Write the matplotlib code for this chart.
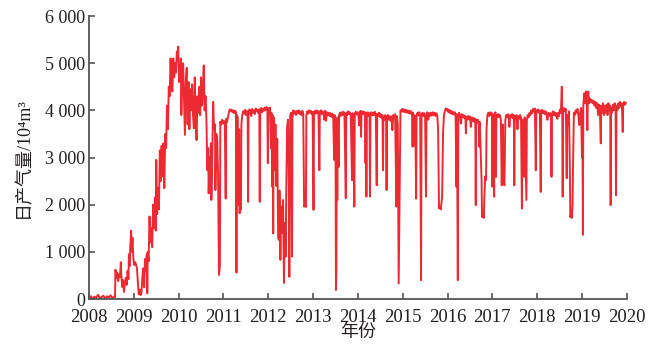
import numpy as np
import matplotlib
matplotlib.use("Agg")
import matplotlib.pyplot as plt
from matplotlib.ticker import FuncFormatter

# 日产气量 (10^4 m^3)，按年份的小数表示日期

# 2008-2010 投产与上产
ramp_t = [2008.00, 2008.04, 2008.08, 2008.12, 2008.16, 2008.20, 2008.24, 2008.28, 2008.32, 2008.36,
          2008.40, 2008.44, 2008.48, 2008.52, 2008.56, 2008.58, 2008.59, 2008.61, 2008.63, 2008.65,
          2008.67, 2008.69, 2008.71, 2008.72, 2008.74, 2008.76, 2008.78, 2008.80, 2008.82, 2008.84,
          2008.86, 2008.88, 2008.89, 2008.91, 2008.92, 2008.94, 2008.95, 2008.97, 2008.99, 2009.01,
          2009.03, 2009.05, 2009.07, 2009.09, 2009.11, 2009.13, 2009.15, 2009.17, 2009.19, 2009.21,
          2009.23, 2009.25, 2009.27, 2009.29, 2009.30, 2009.31, 2009.33, 2009.35, 2009.37, 2009.39,
          2009.41, 2009.43, 2009.45, 2009.47, 2009.49, 2009.50, 2009.52, 2009.54, 2009.56, 2009.58,
          2009.60, 2009.62, 2009.64, 2009.66, 2009.68, 2009.70, 2009.72, 2009.74, 2009.76, 2009.78,
          2009.80, 2009.82, 2009.84, 2009.86, 2009.88, 2009.90, 2009.92, 2009.94, 2009.96, 2009.98]
ramp_q = [20, 60, 10, 50, 30, 90, 20, 40, 70, 10,
          60, 30, 80, 20, 50, 40, 620, 450, 560, 380,
          520, 460, 780, 520, 260, 400, 150, 320, 450, 300,
          600, 420, 950, 700, 1100, 1450, 1000, 1300, 850, 720,
          780, 730, 650, 350, 100, 200, 80, 130, 450, 650,
          250, 850, 600, 950, 120, 1000, 800, 1750, 1200, 1500,
          1100, 2000, 1500, 2150, 1450, 2950, 1800, 2350, 1900, 3150,
          2500, 3250, 2600, 3300, 2350, 3500, 3200, 4100, 3600, 4500,
          4300, 5100, 4500, 4400, 5100, 4700, 5000, 4800, 5250, 5050]

# 2010-2011 高峰与递减
peak_t = [2009.99, 2010.01, 2010.03, 2010.05, 2010.06, 2010.08, 2010.10, 2010.12, 2010.14, 2010.16,
          2010.18, 2010.20, 2010.22, 2010.24, 2010.26, 2010.28, 2010.30, 2010.32, 2010.34, 2010.36,
          2010.38, 2010.40, 2010.42, 2010.44, 2010.46, 2010.48, 2010.50, 2010.52, 2010.54, 2010.56,
          2010.58, 2010.60, 2010.62, 2010.64, 2010.66, 2010.67, 2010.69, 2010.70, 2010.72, 2010.73,
          2010.75, 2010.77, 2010.79, 2010.81, 2010.82, 2010.84, 2010.86, 2010.88, 2010.90, 2010.92,
          2010.93, 2010.95, 2010.97, 2010.99, 2011.01, 2011.03, 2011.05, 2011.06, 2011.08, 2011.10]
peak_q = [5350, 4600, 4700, 5100, 3900, 4800, 5000, 4200, 3480, 4600,
          4900, 3700, 4600, 3600, 4450, 4000, 4550, 3900, 3620, 4700,
          3800, 3370, 4300, 3950, 4500, 3900, 4700, 4100, 4400, 4950,
          4000, 4300, 3800, 2730, 3200, 2240, 3000, 2500, 3300, 2100,
          3000, 4180, 3600, 3700, 2310, 3500, 3400, 2600, 510, 700,
          3760, 3700, 3800, 3720, 3780, 3700, 2130, 3820, 3750, 3850]

# 2011-2014 稳产
plat1_t = [2011.12, 2011.14, 2011.16, 2011.18, 2011.20, 2011.22, 2011.24, 2011.26, 2011.28, 2011.29,
           2011.30, 2011.32, 2011.34, 2011.35, 2011.36, 2011.38, 2011.39, 2011.40, 2011.42, 2011.44,
           2011.46, 2011.48, 2011.50, 2011.52, 2011.54, 2011.55, 2011.56, 2011.58, 2011.60, 2011.62,
           2011.64, 2011.66, 2011.68, 2011.70, 2011.72, 2011.74, 2011.76, 2011.78, 2011.80, 2011.81,
           2011.82, 2011.84, 2011.86, 2011.88, 2011.90, 2011.92, 2011.94, 2011.96, 2011.98, 2011.99,
           2012.00, 2012.02, 2012.04, 2012.06, 2012.07, 2012.09, 2012.10, 2012.11, 2012.12, 2012.14,
           2012.16, 2012.18, 2012.20, 2012.22, 2012.24, 2012.25, 2012.27, 2012.29, 2012.31, 2012.33,
           2012.35, 2012.37, 2012.39, 2012.40, 2012.42, 2012.44, 2012.46, 2012.47, 2012.49, 2012.51,
           2012.53, 2012.54, 2012.56, 2012.58, 2012.60, 2012.62, 2012.64, 2012.66, 2012.68, 2012.70,
           2012.72, 2012.74, 2012.76, 2012.78, 2012.80, 2012.82, 2012.84, 2012.85, 2012.87, 2012.89,
           2012.91, 2012.93, 2012.95, 2012.97, 2012.99, 2013.01, 2013.02, 2013.04, 2013.06, 2013.08,
           2013.10, 2013.12, 2013.14, 2013.15, 2013.17, 2013.19, 2013.21, 2013.23, 2013.25, 2013.27,
           2013.29, 2013.31, 2013.33, 2013.35, 2013.37, 2013.39, 2013.41, 2013.43, 2013.45, 2013.47,
           2013.48, 2013.50, 2013.51, 2013.52, 2013.53, 2013.54, 2013.55, 2013.57, 2013.58, 2013.60,
           2013.62, 2013.64, 2013.66, 2013.68, 2013.70, 2013.73, 2013.74, 2013.76, 2013.78, 2013.80,
           2013.82, 2013.84, 2013.87, 2013.88, 2013.90, 2013.92, 2013.93, 2013.95, 2013.97, 2013.99]
plat1_q = [3950, 4020, 3980, 4010, 3960, 4000, 3940, 3990, 3960, 560,
           3900, 3850, 1990, 3600, 1820, 2200, 1900, 3700, 3900, 3980,
           3930, 4010, 3900, 3990, 3950, 2060, 3920, 4020, 3960, 3880,
           4030, 3950, 4000, 3920, 4040, 3980, 4010, 3940, 4020, 2060,
           3990, 4050, 3960, 4030, 3990, 4060, 4000, 4070, 4030, 2880,
           4050, 4010, 4060, 3200, 3950, 2380, 3900, 1390, 3850, 2730,
           3700, 2400, 3400, 1300, 1250, 2300, 830, 1960, 1400, 2100,
           340, 1610, 900, 2170, 3650, 3800, 2400, 470, 3900, 3950,
           900, 3850, 4000, 3930, 3980, 3900, 3990, 3940, 4000, 3920,
           3970, 3900, 3990, 3940, 1960, 2000, 1950, 3900, 3980, 3930,
           4000, 3950, 3990, 3920, 3970, 1890, 3960, 3990, 3930, 4000,
           3940, 3980, 2730, 3950, 4000, 3920, 3980, 3950, 3800, 3990,
           3780, 3960, 3900, 3950, 3880, 3940, 3860, 3930, 3850, 2950,
           3900, 3850, 190, 600, 3800, 2100, 3850, 2800, 3900, 3950,
           3880, 3960, 3900, 3970, 3920, 2140, 3950, 3900, 3980, 3920,
           3960, 3900, 2520, 3940, 3880, 1960, 3920, 3970, 3910, 3960]

# 2014-2017
plat2_t = [2014.01, 2014.03, 2014.04, 2014.06, 2014.07, 2014.08, 2014.10, 2014.12, 2014.14, 2014.16,
           2014.17, 2014.18, 2014.19, 2014.20, 2014.22, 2014.24, 2014.26, 2014.27, 2014.28, 2014.30,
           2014.32, 2014.34, 2014.36, 2014.38, 2014.40, 2014.42, 2014.43, 2014.45, 2014.47, 2014.49,
           2014.51, 2014.53, 2014.55, 2014.56, 2014.57, 2014.59, 2014.61, 2014.63, 2014.64, 2014.65,
           2014.67, 2014.69, 2014.71, 2014.73, 2014.75, 2014.77, 2014.79, 2014.81, 2014.83, 2014.86,
           2014.87, 2014.89, 2014.91, 2014.93, 2014.95, 2014.97, 2014.99, 2015.01, 2015.03, 2015.05,
           2015.07, 2015.09, 2015.11, 2015.13, 2015.15, 2015.17, 2015.19, 2015.21, 2015.22, 2015.23,
           2015.25, 2015.26, 2015.28, 2015.30, 2015.31, 2015.33, 2015.35, 2015.37, 2015.39, 2015.41,
           2015.42, 2015.44, 2015.46, 2015.48, 2015.50, 2015.52, 2015.53, 2015.55, 2015.57, 2015.59,
           2015.61, 2015.63, 2015.65, 2015.67, 2015.69, 2015.71, 2015.73, 2015.75, 2015.77, 2015.79,
           2015.81, 2015.83, 2015.85, 2015.86, 2015.88, 2015.90, 2015.92, 2015.94, 2015.96, 2015.98,
           2016.00, 2016.02, 2016.04, 2016.06, 2016.08, 2016.10, 2016.12, 2016.14, 2016.16, 2016.18,
           2016.20, 2016.21, 2016.23, 2016.24, 2016.26, 2016.28, 2016.30, 2016.32, 2016.34, 2016.36,
           2016.38, 2016.40, 2016.41, 2016.42, 2016.44, 2016.46, 2016.48, 2016.50, 2016.52, 2016.54,
           2016.56, 2016.58, 2016.60, 2016.62, 2016.63, 2016.64, 2016.66, 2016.68, 2016.70, 2016.71,
           2016.72, 2016.74, 2016.76, 2016.77, 2016.79, 2016.81, 2016.82, 2016.84, 2016.86, 2016.87,
           2016.89, 2016.91, 2016.93, 2016.95, 2016.97, 2016.99]
plat2_q = [3900, 3680, 3950, 3990, 3440, 3940, 3980, 3920, 3970, 3900,
           2880, 3950, 2170, 3900, 3960, 3880, 3940, 2170, 3900, 3960,
           3890, 3950, 3900, 3970, 3880, 2410, 3930, 3880, 3950, 3860,
           3920, 3840, 3900, 2730, 3850, 3800, 3900, 3820, 2310, 3850,
           3900, 3800, 3880, 3780, 3870, 3580, 3900, 3850, 3920, 1960,
           3880, 3700, 330, 2100, 4000, 3980, 4030, 3970, 4020, 3960,
           4010, 3950, 4000, 3940, 3990, 3930, 3980, 3900, 3230, 3950,
           3250, 3900, 3850, 2130, 3880, 3950, 3890, 3960, 3900, 400,
           3880, 3950, 3880, 3940, 3870, 2170, 3900, 3960, 3800, 3940,
           3880, 3950, 3890, 3960, 3900, 3950, 3880, 3940, 3900, 3600,
           1920, 1950, 1900, 2000, 2170, 3500, 3900, 3980, 4040, 4000,
           4030, 3960, 4010, 3940, 3990, 3920, 3970, 3910, 3960, 3900,
           2380, 3920, 400, 3900, 3950, 3880, 3720, 3920, 3860, 3900,
           3830, 3880, 3510, 3860, 3800, 3880, 3810, 3870, 3650, 3850,
           3780, 3840, 3760, 3820, 1990, 3800, 3740, 3800, 3700, 3230,
           3750, 3100, 2500, 1740, 1800, 1720, 2100, 2600, 2520, 3600,
           3900, 3950, 3880, 3960, 3900, 3940]

# 2017-2020
plat3_t = [2017.00, 2017.01, 2017.03, 2017.04, 2017.05, 2017.07, 2017.08, 2017.09, 2017.11, 2017.13,
           2017.15, 2017.17, 2017.19, 2017.21, 2017.23, 2017.25, 2017.27, 2017.29, 2017.31, 2017.33,
           2017.35, 2017.37, 2017.38, 2017.40, 2017.42, 2017.44, 2017.46, 2017.48, 2017.49, 2017.50,
           2017.52, 2017.54, 2017.56, 2017.58, 2017.60, 2017.62, 2017.64, 2017.66, 2017.67, 2017.69,
           2017.71, 2017.72, 2017.74, 2017.76, 2017.77, 2017.79, 2017.81, 2017.83, 2017.85, 2017.87,
           2017.89, 2017.91, 2017.93, 2017.95, 2017.97, 2017.98, 2018.00, 2018.02, 2018.04, 2018.06,
           2018.08, 2018.09, 2018.11, 2018.13, 2018.15, 2018.17, 2018.19, 2018.21, 2018.23, 2018.25,
           2018.27, 2018.29, 2018.31, 2018.32, 2018.33, 2018.35, 2018.37, 2018.39, 2018.41, 2018.43,
           2018.45, 2018.47, 2018.49, 2018.51, 2018.53, 2018.55, 2018.56, 2018.57, 2018.58, 2018.60,
           2018.62, 2018.64, 2018.66, 2018.67, 2018.69, 2018.71, 2018.73, 2018.74, 2018.76, 2018.77,
           2018.79, 2018.80, 2018.82, 2018.84, 2018.86, 2018.88, 2018.90, 2018.92, 2018.94, 2018.96,
           2018.98, 2019.00, 2019.01, 2019.02, 2019.03, 2019.05, 2019.07, 2019.09, 2019.11, 2019.12,
           2019.13, 2019.14, 2019.16, 2019.18, 2019.20, 2019.22, 2019.24, 2019.26, 2019.28, 2019.30,
           2019.32, 2019.34, 2019.36, 2019.38, 2019.40, 2019.42, 2019.43, 2019.45, 2019.47, 2019.49,
           2019.51, 2019.53, 2019.55, 2019.57, 2019.59, 2019.61, 2019.63, 2019.64, 2019.65, 2019.67,
           2019.69, 2019.71, 2019.73, 2019.75, 2019.76, 2019.77, 2019.79, 2019.81, 2019.83, 2019.85,
           2019.87, 2019.89, 2019.91, 2019.92, 2019.94, 2019.96, 2019.98]
plat3_q = [2380, 3920, 3850, 2170, 3900, 3960, 2590, 3900, 3850, 3920,
           3860, 3900, 3800, 2410, 3700, 2500, 2410, 3800, 3900, 3850,
           3920, 3840, 3650, 3900, 3850, 3920, 3830, 3900, 2410, 3880,
           3820, 3900, 3600, 3880, 3820, 3900, 3840, 1920, 3800, 3700,
           2590, 3850, 3000, 2100, 3800, 3900, 3850, 3950, 3900, 4000,
           3940, 4030, 3980, 4040, 2730, 4000, 3960, 4020, 3950, 4000,
           2270, 3960, 4010, 3940, 3990, 3920, 3980, 3900, 3800, 3950,
           3880, 3940, 3900, 2590, 3920, 3980, 3900, 3960, 3880, 3940,
           3820, 3950, 3880, 4020, 3950, 4500, 3950, 2170, 3980, 4050,
           3980, 4030, 2560, 3900, 3700, 3980, 2800, 1740, 1800, 1720,
           2000, 2800, 3950, 3900, 4000, 3950, 4030, 3900, 3690, 3950,
           4050, 3000, 4000, 1360, 4100, 4360, 4150, 4400, 4100, 3580,
           4200, 4400, 4150, 4250, 4180, 4220, 4150, 4200, 4100, 4180,
           4050, 4150, 3900, 4120, 4000, 3300, 4100, 3950, 4150, 3900,
           4100, 3950, 4120, 3900, 4150, 4000, 4100, 1990, 4050, 3950,
           4120, 4000, 4150, 4050, 2200, 4100, 4000, 4150, 4050, 4180,
           4080, 4150, 3540, 4100, 4180, 4120, 4160]

year_ticks = list(range(2008, 2021))
q_ticks = [0, 1000, 2000, 3000, 4000, 5000, 6000]

t = np.concatenate([ramp_t, peak_t, plat1_t, plat2_t, plat3_t])
q = np.concatenate([ramp_q, peak_q, plat1_q, plat2_q, plat3_q])

plt.rcParams['font.family'] = ['Liberation Serif', 'Noto Sans CJK SC', 'DejaVu Serif']
plt.rcParams['font.size'] = 13

fig = plt.figure(figsize=(6.57, 3.45), dpi=100)
ax = fig.add_axes([0.1355, 0.1333, 0.8185, 0.8203])

ax.plot(t, q, color='#ec2a32', linewidth=1.4)

ax.set_xlim(2008, 2020)
ax.set_ylim(0, 6000)
ax.set_xticks(year_ticks)
ax.set_yticks(q_ticks)
# 千分位用空格分隔
ax.yaxis.set_major_formatter(FuncFormatter(lambda v, p: f"{int(v):,}".replace(",", " ")))

for side in ['top', 'right']:
    ax.spines[side].set_visible(False)
for side in ['left', 'bottom']:
    ax.spines[side].set_color('#555555')
    ax.spines[side].set_linewidth(1.3)
ax.tick_params(direction='in', length=4, width=1.2, color='#555555',
               labelsize=13.5, labelcolor='#231f20')
ax.tick_params(axis='x', pad=7)
ax.tick_params(axis='y', pad=3, labelsize=13)

ax.set_xlabel('年份', fontsize=13, color='#231f20', labelpad=-1)
ax.set_ylabel('日产气量/10⁴m³', fontsize=13, color='#231f20', labelpad=9)

fig.savefig('out.png', dpi=100)
